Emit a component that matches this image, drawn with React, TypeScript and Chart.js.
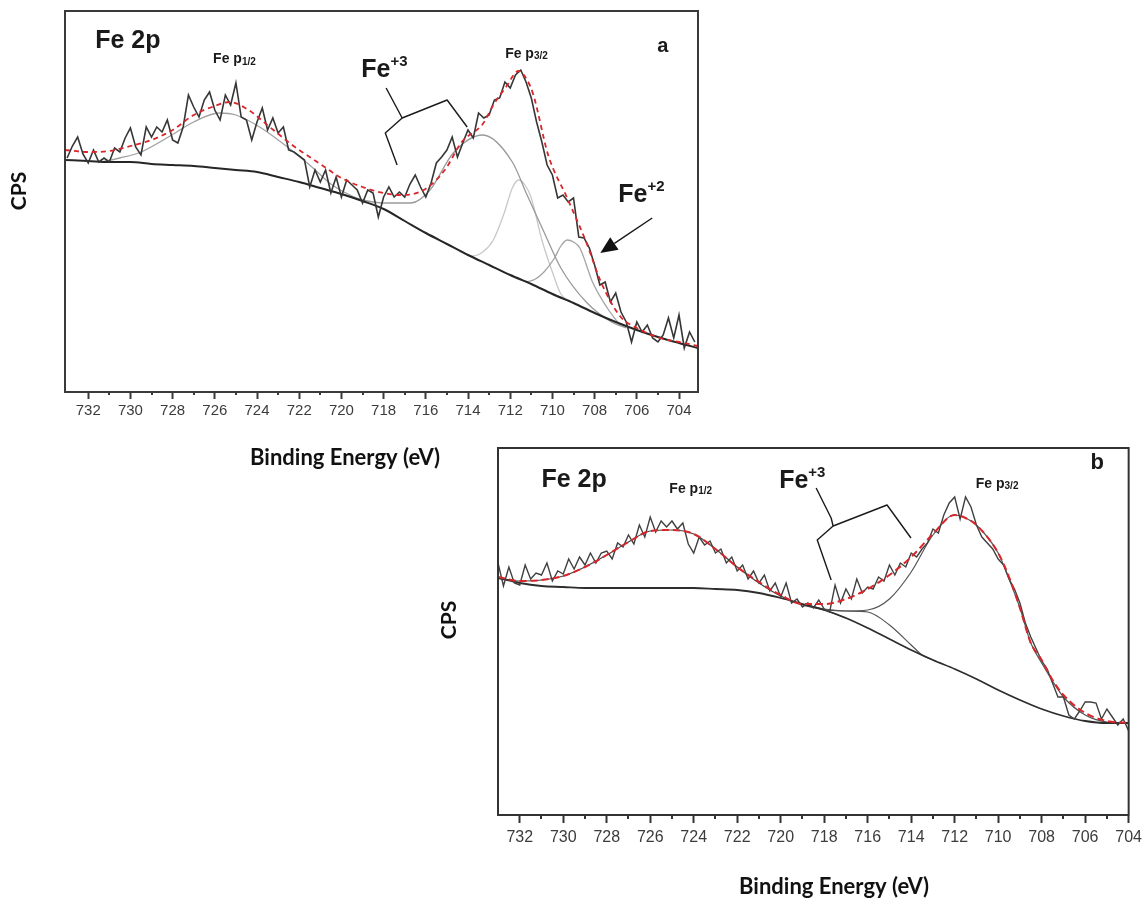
import React, { useEffect, useRef } from "react";
import { Chart, registerables } from "chart.js";
Chart.register(...registerables);

type P = [number, number];

// ---------------- Panel a (Binding energy eV, CPS arbitrary units) ----------------
const xRangeA = { min: 703.1, max: 733.1 };
const yRangeA = { min: 0, max: 381 };
const majorTicksA = [732, 730, 728, 726, 724, 722, 720, 718, 716, 714, 712, 710, 708, 706, 704];
const minorTicksA = [731, 729, 727, 725, 723, 721, 719, 717, 715, 713, 711, 709, 707, 705];
const rawStartA = 733;
const rawStepA = 0.25;
const rawA = [
  234, 246, 255, 238,
  229, 242, 230, 234,
  230, 244, 240, 254,
  264, 245, 237, 265,
  255, 265, 260, 272,
  252, 249, 265, 297,
  285, 275, 292, 300,
  282, 272, 297, 287,
  309, 275, 272, 252,
  270, 284, 262, 274,
  259, 265, 242, 240,
  236, 232, 205, 222,
  210, 222, 199, 215,
  195, 212, 207, 202,
  189, 202, 199, 175,
  195, 205, 195, 200,
  195, 208, 217, 205,
  195, 209, 229, 235,
  242, 255, 235, 249,
  262, 254, 279, 274,
  277, 292, 294, 310,
  304, 317, 322, 310,
  294, 270, 250, 227,
  217, 194, 197, 190,
  194, 155, 154, 144,
  127, 107, 110, 90,
  99, 80, 70, 50,
  70, 60, 67, 54,
  50, 57, 74, 54,
  77, 44, 60, 50,
];
const bgA: P[] = [[733.1,232],[732,231],[731,230],[730,230],[729,228],[728,227],[727,226],[726,224],[725,222],[724,220],[723,215],[722,210],[721,204],[720,198],[719,191],[718,183],[717,171],[716,159],[715,148],[714,137],[713,127],[712,117],[711,108],[710,98],[709,89],[708,79],[707,70],[706,62],[705,55],[704,49],[703.1,44]];
const envA: P[] = [[733.1,242],[732,240],[731,241],[730,246],[729,252],[728,262],[727,277],[726,286],[725.3,290],[724.4,282],[723.4,265],[722.2,245],[721,228],[720,214],[719,205],[718,199],[717.2,197],[716.1,202],[715.1,222],[714.3,250],[713.3,268],[712.8,287],[712.2,305],[711.6,321],[711.2,312],[710.9,297],[710.2,237],[709.3,194],[708.4,150],[707.7,110],[706.8,76],[706,64],[704.9,54],[704,50],[703.1,46]];
const p12A: P[] = [[731.4,230],[730.5,234],[729.5,240],[728.2,255],[727,270],[725.8,279],[725,277],[723.8,264],[722.2,239],[721.4,225],[720.5,208],[719.5,196],[719,192]];
const fe3BroadA: P[] = [[720,198],[719,192],[718,189],[716.7,189],[715.8,202],[714.7,239],[713.3,257],[711.9,230],[711.2,197],[710.4,160],[709.6,124],[708.4,90],[707.2,70],[706.5,64]];
const fe3NarrowA: P[] = [[714.4,140],[713.8,136],[713.3,140],[712.8,152],[712.3,178],[711.9,204],[711.6,212],[711.3,207],[711,194],[710.5,152],[710,120],[709.6,98],[709.1,90]];
const fe2A: P[] = [[711.2,110],[710.8,113],[710.4,120],[709.9,134],[709.6,146],[709.3,152],[709,150],[708.7,144],[708.1,110],[707.4,84],[706.8,67]];
const bracketA: P[] = [[717.36,227],[717.92,259],[717.12,274],[714.99,292],[714.04,265]];
const pointerA: P[] = [[717.12,274],[717.45,287],[717.88,304]];
const arrowA: P[] = [[705.27,174],[707.73,139]];

// ---------------- Panel b ----------------
const xRangeB = { min: 704, max: 733 };
const yRangeB = { min: 0, max: 367 };
const majorTicksB = [732, 730, 728, 726, 724, 722, 720, 718, 716, 714, 712, 710, 708, 706, 704];
const minorTicksB = [731, 729, 727, 725, 723, 721, 719, 717, 715, 713, 711, 709, 707, 705];
const rawStartB = 733;
const rawStepB = 0.25;
const rawB = [
  252, 229, 248, 232,
  230, 250, 236, 242,
  240, 252, 234, 244,
  241, 256, 246, 258,
  250, 262, 252, 262,
  264, 256, 272, 268,
  280, 271, 290, 278,
  298, 283, 294, 288,
  294, 286, 292, 271,
  262, 278, 270, 274,
  262, 266, 252, 258,
  244, 250, 236, 244,
  232, 240, 224, 232,
  218, 232, 212, 216,
  208, 212, 207, 215,
  206, 203, 230, 212,
  226, 216, 236, 222,
  228, 226, 238, 234,
  250, 240, 252, 248,
  262, 258, 266, 272,
  286, 282, 300, 312,
  318, 296, 318, 308,
  290, 278, 272, 266,
  256, 250, 236, 226,
  212, 192, 178, 166,
  154, 146, 132, 118,
  118, 100, 96, 104,
  113, 113, 112, 96,
  106, 98, 90, 96,
  84,
];
const bgB: P[] = [[733,237],[732,232],[731,229],[730,228],[729,227],[728,227],[727,227],[726,227],[725,227],[724,227],[723,226],[722,225],[721,222],[720,217],[719,211],[718,205],[717,197],[716,187],[715,176],[714,165],[713,155],[712,146],[711,136],[710,125],[709,115],[708,106],[707,99],[706,94],[705,92],[704,92]];
const envB: P[] = [[733,238],[732,234],[731,235],[730,239],[729,248],[728,260],[727,273],[726,284],[725,285],[724,281],[723,266],[722,248],[721,233],[720,220],[719,211],[718,211],[717,216],[716,226],[715,240],[714,258],[713,281],[712,300],[711.5,297],[711,290],[710,262],[709.5,238],[709,207],[708.5,172],[708,155],[707.5,135],[707,120],[706,102],[705,94],[704,92]];
const p12B: P[] = [[733,237],[732,234],[731,235],[730,239],[729,248],[728,260],[727,273],[726,284],[725,285],[724,281],[723,266],[722,248],[721,232],[720,219],[719,210],[718,205],[717,197]];
const p32B: P[] = [[718,205],[717,204],[716,205],[715,216],[714,243],[713,280],[712,300],[711.5,297],[711,290],[710,262],[709.5,236],[709,207],[708.5,172],[708,152],[707.5,134],[707,118],[706,100],[705,93],[704,92]];
const fe3B: P[] = [[719,211],[718,206],[717,204],[716,203],[715,190],[714,170],[713.5,160],[713,155]];
const bracketB: P[] = [[717.68,235],[718.32,275],[717.59,289],[715.11,310],[714.01,277]];
const pointerB: P[] = [[717.59,289],[717.68,297],[718.37,327]];

const toPts = (arr: P[]) => arr.map(([x, y]) => ({ x, y }));
const rawPts = (start: number, step: number, vals: number[]) => vals.map((y, i) => ({ x: start - i * step, y }));

const decor = {
  id: "decor",
  afterDatasetsDraw(chart: any, _args: any, o: any) {
    const { ctx, chartArea: ca, scales } = chart;
    const xs = scales.x, ys = scales.y;
    const px = (v: number) => xs.getPixelForValue(v);
    const py = (v: number) => ys.getPixelForValue(v);
    ctx.save();
    // frame
    ctx.strokeStyle = o.frameColor;
    ctx.lineWidth = o.frameWidth;
    ctx.strokeRect(ca.left, ca.top, ca.right - ca.left, ca.bottom - ca.top);
    // minor ticks
    ctx.lineWidth = o.tickWidth;
    ctx.beginPath();
    for (const t of o.minorTicks) {
      const x = Math.round(px(t));
      ctx.moveTo(x, ca.bottom);
      ctx.lineTo(x, ca.bottom + o.minorLen);
    }
    ctx.stroke();
    // polylines (brackets)
    ctx.strokeStyle = o.annColor;
    ctx.lineWidth = 1.4;
    ctx.lineJoin = "round";
    for (const poly of o.polylines) {
      ctx.beginPath();
      poly.forEach(([a, b]: P, i: number) => (i ? ctx.lineTo(px(a), py(b)) : ctx.moveTo(px(a), py(b))));
      ctx.stroke();
    }
    // arrows
    for (const [[a1, b1], [a2, b2]] of o.arrows) {
      const x1 = px(a1), y1 = py(b1), x2 = px(a2), y2 = py(b2);
      const ang = Math.atan2(y2 - y1, x2 - x1);
      const L = 17, W = 7.5;
      const bx = x2 - L * Math.cos(ang), by = y2 - L * Math.sin(ang);
      ctx.lineWidth = 1.5;
      ctx.beginPath();
      ctx.moveTo(x1, y1);
      ctx.lineTo(bx, by);
      ctx.stroke();
      ctx.fillStyle = "#111";
      ctx.beginPath();
      ctx.moveTo(x2, y2);
      ctx.lineTo(bx + W * Math.sin(ang), by - W * Math.cos(ang));
      ctx.lineTo(bx - W * Math.sin(ang), by + W * Math.cos(ang));
      ctx.closePath();
      ctx.fill();
    }
    // texts in data coordinates
    ctx.fillStyle = o.annColor;
    ctx.textAlign = "left";
    for (const t of o.texts) {
      let x = px(t.x);
      const y = py(t.y);
      ctx.textBaseline = t.baseline || "alphabetic";
      for (const part of t.parts) {
        ctx.font = part.font;
        ctx.fillText(part.t, x, y + (part.dy || 0));
        x += ctx.measureText(part.t).width + (part.gap || 0);
      }
    }
    // outer labels in canvas pixels
    for (const l of o.outer) {
      ctx.save();
      ctx.translate(l.px, l.py);
      if (l.rotate) ctx.rotate(l.rotate);
      ctx.font = l.font;
      ctx.fillStyle = "#111";
      ctx.textAlign = "center";
      ctx.textBaseline = "middle";
      ctx.fillText(l.text, 0, 0);
      ctx.restore();
    }
    ctx.restore();
  },
};

const bold = (s: number, fam = "'Liberation Sans', Arial, sans-serif") => `bold ${s}px ${fam}`;
const titleFont = bold(22, "Lato, 'Open Sans', sans-serif");
const cpsFont = bold(21, "Lato, 'Open Sans', sans-serif");

function lineDs(data: any[], color: string, width: number, order: number, smooth: boolean, dash?: number[]) {
  return {
    data,
    borderColor: color,
    borderWidth: width,
    borderDash: dash || [],
    pointRadius: 0,
    fill: false,
    order,
    tension: 0,
    cubicInterpolationMode: smooth ? "monotone" : "default",
  };
}

function makeConfig(p: any) {
  return {
    type: "line",
    data: { datasets: p.datasets },
    plugins: [decor],
    options: {
      responsive: false,
      animation: false,
      events: [],
      layout: { padding: p.padding },
      plugins: {
        legend: { display: false },
        tooltip: { enabled: false },
        decor: p.decor,
      },
      scales: {
        x: {
          type: "linear",
          reverse: true,
          min: p.xRange.min,
          max: p.xRange.max,
          afterBuildTicks: (s: any) => { s.ticks = p.majorTicks.map((v: number) => ({ value: v })); },
          afterFit: (s: any) => { s.height = p.axisH; },
          border: { display: true, color: p.frameColor, width: p.frameWidth },
          grid: { drawOnChartArea: false, drawTicks: true, tickLength: p.tickLen, tickColor: p.frameColor, tickWidth: 2 },
          ticks: {
            autoSkip: false,
            maxRotation: 0,
            padding: p.tickPad,
            color: "#3c3c3c",
            font: { family: "'Liberation Sans', Arial, sans-serif", size: p.tickSize },
            callback: (v: any) => String(Math.round(Number(v))),
          },
        },
        y: { display: false, min: p.yRange.min, max: p.yRange.max },
      },
    },
  };
}

const configA = () =>
  makeConfig({
    xRange: xRangeA,
    yRange: yRangeA,
    majorTicks: majorTicksA,
    padding: { left: 65, top: 11, right: 22, bottom: 40 },
    axisH: 48,
    tickLen: 7,
    tickPad: 3,
    tickSize: 15,
    frameColor: "#3a3a3a",
    frameWidth: 2,
    datasets: [
      lineDs(toPts(envA), "#d9262b", 1.8, 0, true, [5, 4]),
      lineDs(rawPts(rawStartA, rawStepA, rawA), "#363636", 1.6, 1, false),
      lineDs(toPts(bgA), "#262626", 2, 2, true),
      lineDs(toPts(p12A), "#a0a0a0", 1.3, 3, true),
      lineDs(toPts(fe3BroadA), "#9a9a9a", 1.3, 3, true),
      lineDs(toPts(fe3NarrowA), "#c8c8c8", 1.3, 4, true),
      lineDs(toPts(fe2A), "#a4a4a4", 1.3, 3, true),
    ],
    decor: {
      frameColor: "#3a3a3a",
      frameWidth: 2,
      tickWidth: 2,
      minorTicks: minorTicksA,
      minorLen: 3,
      annColor: "#1a1a1a",
      polylines: [bracketA, pointerA],
      arrows: [arrowA],
      texts: [
        { x: 731.67, y: 351, baseline: "middle", parts: [{ t: "Fe 2p", font: bold(25) }] },
        { x: 726.08, y: 329, parts: [{ t: "Fe p", font: bold(14) }, { t: "1/2", font: bold(10), dy: 2 }] },
        { x: 719.06, y: 315, parts: [{ t: "Fe", font: bold(25) }, { t: "+3", font: bold(15), dy: -11 }] },
        { x: 712.24, y: 334, parts: [{ t: "Fe p", font: bold(14) }, { t: "3/2", font: bold(10), dy: 1 }] },
        { x: 705.03, y: 346, baseline: "middle", parts: [{ t: "a", font: bold(20) }] },
        { x: 706.88, y: 190, parts: [{ t: "Fe", font: bold(25) }, { t: "+2", font: bold(15), dy: -11 }] },
      ],
      outer: [
        { text: "CPS", px: 19, py: 191, rotate: -Math.PI / 2, font: cpsFont },
        { text: "Binding Energy (eV)", px: 345, py: 458, font: titleFont },
      ],
    },
  });

const configB = () =>
  makeConfig({
    xRange: xRangeB,
    yRange: yRangeB,
    majorTicks: majorTicksB,
    padding: { left: 78, top: 8, right: 17, bottom: 45 },
    axisH: 45,
    tickLen: 8,
    tickPad: 5,
    tickSize: 16,
    frameColor: "#333",
    frameWidth: 2,
    datasets: [
      lineDs(toPts(envB), "#d9262b", 2, 0, true, [7, 4]),
      lineDs(rawPts(rawStartB, rawStepB, rawB), "#404040", 1.4, 1, false),
      lineDs(toPts(bgB), "#2e2e2e", 1.8, 2, true),
      lineDs(toPts(p12B), "#444", 1.2, 3, true),
      lineDs(toPts(p32B), "#555", 1.2, 3, true),
      lineDs(toPts(fe3B), "#555", 1.2, 3, true),
    ],
    decor: {
      frameColor: "#333",
      frameWidth: 2,
      tickWidth: 2,
      minorTicks: minorTicksB,
      minorLen: 4,
      annColor: "#1a1a1a",
      polylines: [bracketB, pointerB],
      arrows: [],
      texts: [
        { x: 731.0, y: 335, baseline: "middle", parts: [{ t: "Fe 2p", font: bold(25) }] },
        { x: 725.12, y: 322, parts: [{ t: "Fe p", font: bold(14) }, { t: "1/2", font: bold(10), dy: 1 }] },
        { x: 720.07, y: 327, parts: [{ t: "Fe", font: bold(25) }, { t: "+3", font: bold(15), dy: -11 }] },
        { x: 711.03, y: 327, parts: [{ t: "Fe p", font: bold(14) }, { t: "3/2", font: bold(10), dy: 1 }] },
        { x: 705.75, y: 352, baseline: "middle", parts: [{ t: "b", font: bold(22) }] },
      ],
      outer: [
        { text: "CPS", px: 29, py: 180, rotate: -Math.PI / 2, font: cpsFont },
        { text: "Binding Energy (eV)", px: 414, py: 447, font: titleFont },
      ],
    },
  });

function Panel({ left, top, width, height, config }: any) {
  const ref = useRef<HTMLCanvasElement | null>(null);
  useEffect(() => {
    if (!ref.current) return;
    const chart = new Chart(ref.current, config() as any);
    return () => chart.destroy();
  }, []);
  return (
    <canvas
      ref={ref}
      width={width}
      height={height}
      style={{ position: "absolute", left, top, width, height }}
    />
  );
}

export default function App() {
  return (
    <div style={{ position: "fixed", left: 0, top: 0, width: 1147, height: 905, background: "#fff", overflow: "hidden" }}>
      <Panel left={0} top={0} width={720} height={480} config={configA} />
      <Panel left={420} top={440} width={727} height={465} config={configB} />
    </div>
  );
}
